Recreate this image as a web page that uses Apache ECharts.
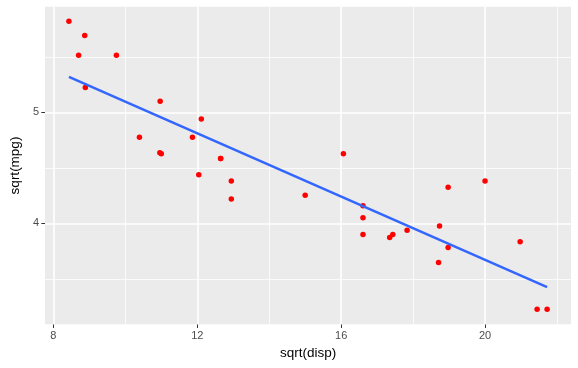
<!DOCTYPE html>
<html><head><meta charset="utf-8">
<script src="https://cdn.jsdelivr.net/npm/echarts@6/dist/echarts.min.js"></script>
<style>html,body{margin:0;padding:0;background:#fff}#c{width:578px;height:368px}</style>
</head><body><div id="c"></div>
<script>
// sqrt(disp) and sqrt(mpg) for the 32 cars
const sqrtDisp = [12.649,12.649,10.392,16.062,18.974,15.000,18.974,12.112,11.866,12.946,12.946,16.607,16.607,16.607,21.726,21.448,20.976,8.871,8.701,8.432,10.959,17.833,17.436,18.708,20.000,8.888,10.968,9.752,18.735,12.042,17.349,11.000];
const sqrtMpg  = [4.583,4.583,4.775,4.626,4.324,4.254,3.782,4.940,4.775,4.382,4.219,4.050,4.159,3.899,3.225,3.225,3.834,5.692,5.514,5.822,4.637,3.937,3.899,3.647,4.382,5.225,5.099,5.514,3.975,4.438,3.873,4.626];
// fitted line endpoints
const fitX = [8.432, 21.726];
const fitY = [5.32, 3.425];
// axis breaks
const xMajor = [8, 12, 16, 20];
const xMinor = [10, 14, 18, 22];
const yMajor = [4, 5];
const yMinor = [3.5, 4.5, 5.5];

const chart = echarts.init(document.getElementById('c'), null, {renderer:'canvas'});
const font = 'Liberation Sans, Arial, sans-serif';
const grid = (vals, axis, w) => ({
  type:'line', data:[], silent:true, z:0,
  markLine:{silent:true, z:1, symbol:['none','none'], label:{show:false},
    lineStyle:{color:'#ffffff', width:w, type:'solid'}, emphasis:{disabled:true},
    animation:false,
    data: vals.map(v => ({[axis]: v}))}
});
chart.setOption({
  animation:false,
  backgroundColor:'#ffffff',
  grid:{left:41.7, right:7, top:6.7, bottom:43.7, show:true, backgroundColor:'#EBEBEB', borderWidth:0},
  xAxis:{type:'value', min:7.767, max:22.39,
    name:'sqrt(disp)', nameLocation:'middle', nameGap:22,
    nameTextStyle:{fontFamily:font, fontSize:13.5, color:'#000'},
    axisLine:{show:false},
    axisTick:{show:true, length:3.7, lineStyle:{color:'#333333', width:1}, customValues:xMajor},
    axisLabel:{fontFamily:font, fontSize:11, color:'#4D4D4D', margin:6, customValues:xMajor},
    splitLine:{show:false}},
  yAxis:{type:'value', min:3.09, max:5.952,
    name:'sqrt(mpg)', nameLocation:'middle', nameGap:22, nameRotate:90,
    nameTextStyle:{fontFamily:font, fontSize:13.5, color:'#000'},
    axisLine:{show:false},
    axisTick:{show:true, length:3.7, lineStyle:{color:'#333333', width:1}, customValues:yMajor},
    axisLabel:{fontFamily:font, fontSize:11, color:'#4D4D4D', margin:6, customValues:yMajor},
    splitLine:{show:false}},
  series:[
    grid(xMinor,'xAxis',0.8), grid(yMinor,'yAxis',0.8),
    grid(xMajor,'xAxis',1.6), grid(yMajor,'yAxis',1.6),
    {type:'scatter', z:10, symbolSize:5.5, itemStyle:{color:'#FF0000', opacity:1},
     data: sqrtDisp.map((x,i)=>[x, sqrtMpg[i]])},
    {type:'line', z:11, symbol:'none', lineStyle:{color:'#3366FF', width:2.5},
     data: fitX.map((x,i)=>[x, fitY[i]])}
  ]
});
</script></body></html>
